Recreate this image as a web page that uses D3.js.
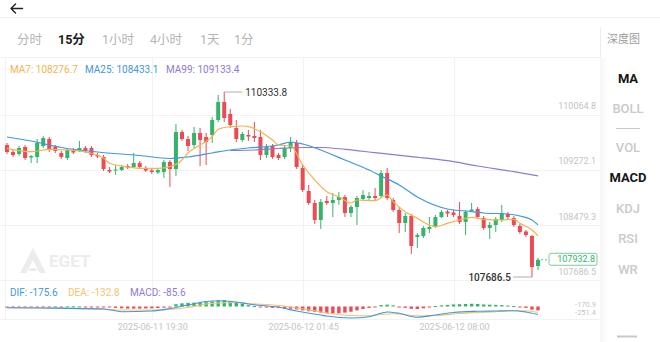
<!DOCTYPE html>
<html>
<head>
<meta charset="utf-8">
<script src="https://cdn.jsdelivr.net/npm/d3@7"></script>
<style>
  html, body { margin: 0; padding: 0; background: #fff; overflow: hidden; }
  svg { display: block; }
</style>
</head>
<body>
<svg id="chart" width="660" height="342"></svg>
<script>
// ---- 15-minute candles (BTC/USDT style), oldest first ----
const open = [
  109575.5,109475.3,109446.7,109546.8,109396.6,109403.7,109561.1,109661.3,109546.8,109461.0,
  109389.4,109503.9,109489.6,109532.5,109532.5,109432.4,109403.7,109217.7,109210.6,109217.7,
  109274.9,109260.6,109317.9,109246.3,109210.6,109182.0,109189.1,109332.2,109232.0,109761.5,
  109661.3,109575.5,109747.2,109689.9,109718.6,109933.2,110190.8,110019.1,109818.7,109647.0,
  109718.6,109704.2,109689.9,109432.4,109561.1,109432.4,109403.7,109532.5,109604.1,109246.3,
  108917.2,108745.5,108502.2,108774.1,108745.5,108788.4,108831.3,108602.4,108688.2,108802.7,
  108817.0,108845.6,108845.6,109174.8,108788.4,108645.3,108459.3,108559.5,108258.9,108273.3,
  108373.4,108402.1,108545.1,108623.9,108609.6,108559.5,108473.6,108631.0,108659.6,108530.8,
  108387.7,108430.7,108502.2,108588.1,108530.8,108416.4,108337.7,108273.3,107844.0
];
const high = [
  109604.1,109518.2,109561.1,109575.5,109432.4,109661.3,109704.2,109689.9,109575.5,109489.6,
  109532.5,109532.5,109632.7,109561.1,109561.1,109461.0,109432.4,109260.6,109289.3,109289.3,
  109303.6,109461.0,109346.5,109274.9,109232.0,109246.3,109360.8,109360.8,109876.0,109790.1,
  109704.2,109833.0,109818.7,109747.2,109976.1,110291.0,110333.8,110090.6,109933.2,109761.5,
  109790.1,109904.6,109790.1,109589.8,109589.8,109461.0,109561.1,109689.9,109647.0,109289.3,
  109003.1,108788.4,108802.7,108845.6,108888.6,108902.9,108860.0,108716.9,108845.6,108931.5,
  108902.9,108960.1,109217.7,109246.3,108817.0,108688.2,108602.4,108588.1,108316.2,108416.4,
  108545.1,108573.8,108645.3,108645.3,108645.3,108759.8,108645.3,108745.5,108688.2,108559.5,
  108473.6,108545.1,108716.9,108616.7,108559.5,108445.0,108359.1,108287.6,107958.4
];
const low = [
  109446.7,109403.7,109418.0,109360.8,109317.9,109317.9,109532.5,109475.3,109461.0,109375.1,
  109360.8,109446.7,109475.3,109461.0,109403.7,109389.4,109203.4,109174.8,109146.2,109203.4,
  109232.0,109246.3,109232.0,109189.1,109160.5,109160.5,109103.2,108974.4,109131.8,109632.7,
  109489.6,109532.5,109274.9,109289.3,109604.1,109904.6,109904.6,109818.7,109618.4,109618.4,
  109632.7,109618.4,109360.8,109389.4,109375.1,109360.8,109375.1,109475.3,109232.0,108902.9,
  108716.9,108445.0,108373.4,108716.9,108545.1,108716.9,108545.1,108545.1,108430.7,108774.1,
  108788.4,108788.4,108817.0,108788.4,108616.7,108316.2,108330.5,108015.7,108101.5,108244.6,
  108316.2,108387.7,108530.8,108545.1,108545.1,108445.0,108287.6,108616.7,108530.8,108359.1,
  108230.3,108330.5,108473.6,108516.5,108402.1,108301.9,108258.9,107686.5,107786.8
];
const close = [
  109475.3,109432.4,109532.5,109389.4,109418.0,109604.1,109675.6,109503.9,109489.6,109403.7,
  109503.9,109468.2,109532.5,109489.6,109432.4,109410.9,109232.0,109196.3,109224.9,109260.6,
  109253.5,109317.9,109260.6,109210.6,109189.1,109217.7,109332.2,109232.0,109761.5,109661.3,
  109561.1,109747.2,109647.0,109618.4,109933.2,110190.8,109961.8,109861.7,109661.3,109732.9,
  109697.1,109675.6,109432.4,109546.8,109403.7,109389.4,109532.5,109618.4,109260.6,108931.5,
  108745.5,108502.2,108759.8,108745.5,108788.4,108831.3,108602.4,108688.2,108817.0,108860.0,
  108845.6,108817.0,109174.8,108817.0,108645.3,108459.3,108559.5,108130.2,108287.6,108387.7,
  108402.1,108545.1,108616.7,108595.2,108573.8,108473.6,108616.7,108652.5,108545.1,108387.7,
  108430.7,108516.5,108602.4,108545.1,108430.7,108330.5,108287.6,107829.7,107932.8
];

// Moving averages, [candle index, value]
const ma7 = [[0,109528.2],[4,109479.6],[7,109513.9],[10,109503.9],[14,109456.7],[16,109385.1],[17,109313.6],
  [19,109274.9],[22,109242.0],[25,109242.0],[27,109264.9],[29,109360.8],[30,109461.0],[32,109575.5],
  [34,109694.2],[35,109800.1],[37,109837.4],[39,109847.3],[40,109837.4],[42,109765.8],[44,109647.0],
  [45,109575.5],[47,109561.1],[49,109289.3],[51,109074.6],[53,108907.2],[55,108835.6],[57,108745.5],
  [58,108788.4],[61,108778.4],[63,108859.9],[64,108764.0],[66,108620.9],[68,108526.5],[70,108430.6],
  [71,108406.3],[73,108454.9],[75,108502.2],[77,108540.9],[79,108512.3],[82,108502.2],[84,108512.3],
  [85,108455.0],[87,108359.1],[88,108276.7]];
const ma25 = [[0,109689.9],[4,109632.7],[9,109539.7],[15,109475.3],[22,109425.2],[27,109382.3],[30,109403.7],
  [34,109461.0],[37,109503.9],[40,109532.5],[45,109575.5],[47,109618.4],[49,109589.8],[52,109503.9],
  [56,109360.8],[60,109217.7],[62,109131.8],[65,109003.0],[68,108831.3],[73,108659.6],[76,108631.0],
  [79,108602.4],[83,108588.1],[85,108559.4],[87,108502.2],[88,108433.1]];
const ma99 = [[37,109496.7],[41,109503.9],[45,109525.4],[49,109539.7],[52,109539.7],[56,109514.0],
  [61,109465.7],[67,109408.1],[73,109350.8],[78,109275.0],[84,109193.4],[88,109133.4]];

// MACD (12, 26, 9)
const dif = [[0,-26],[6,-33],[16,-55],[19,-114],[24,-99],[27,-44],[30,33],[33,110],[35,128],[38,99],
  [40,55],[45,-18],[48,-99],[52,-187],[53,-209],[57,-251.4],[60,-224],[62,-150],[63,-121],[65,-150],
  [68,-238],[71,-187],[74,-132],[78,-106],[81,-99],[84,-92],[86,-121],[88,-175.6]];
const dea = [[0,-26],[6,-33],[16,-55],[19,-77],[24,-77],[27,-66],[30,-22],[33,55],[35,77],[38,88],
  [40,66],[45,22],[48,-33],[52,-120],[54,-160],[57,-198],[60,-202],[62,-176],[64,-158],[68,-202],
  [71,-198],[75,-154],[81,-114],[84,-92],[86,-92],[88,-132.8]];
const macdHist = [
  -8,-6,-6,-5,-4,-4,-3,-2,2,-2,
  2,3,2,-1,-2,-3,-10,-20,-30,-40,
  -45,-45,-45,-42,-40,-35,-25,-10,50,70,
  80,85,85,95,110,130,140,120,95,60,
  30,10,-5,-15,-30,-30,-40,-50,-65,-85,
  -105,-120,-135,-150,-155,-150,-135,-115,-85,-55,
  -30,-10,30,40,25,-15,-30,-50,-55,-40,
  -20,10,25,35,45,50,55,60,55,45,
  40,35,30,20,10,-5,-30,-70,-85.6
];

const priceTicks = [110064.8, 109272.1, 108479.3, 107686.5];
const macdTicks = ["-170.9", "-251.4"];
const timeTickIndex = [24, 49, 74];
const timeTickLabels = ["2025-06-11 19:30", "2025-06-12 01:45", "2025-06-12 08:00"];
const periods = ["分时", "15分", "1小时", "4小时", "1天", "1分"];
const indicators = ["MA", "BOLL", "VOL", "MACD", "KDJ", "RSI", "WR"];
const legendMA = [["MA7", 108276.7], ["MA25", 108433.1], ["MA99", 109133.4]];
const legendMACD = [["DIF", -175.6], ["DEA", -132.8], ["MACD", -85.6]];

// ---- styles ----
const UP = "#34b46b", DOWN = "#ec4a55";
const C7 = "#f5b34e", C25 = "#3f97e2", C99 = "#9079d6";
const GRID = "#f2f2f2";
const FONT = "Roboto, 'Noto Sans CJK SC', sans-serif";

const svg = d3.select("#chart");
const n = close.length;

const x = d3.scaleLinear().domain([0, n - 1]).range([7, 538]);
const y = d3.scaleLinear().domain([107686.5, 110333.8]).range([277, 92]);
const ym = d3.scaleLinear().domain([-253, 209]).range([318, 297]);

// ---- header ----
svg.append("path").attr("d", "M22.5,8.5H11 M15.5,4 L11,8.5 L15.5,13")
  .attr("fill", "none").attr("stroke", "#222").attr("stroke-width", 1.4)
  .attr("stroke-linecap", "round").attr("stroke-linejoin", "round");
svg.append("line").attr("x1", 0).attr("x2", 660).attr("y1", 17.5).attr("y2", 17.5)
  .attr("stroke", "#efefef");

const tabX = [17, 58, 102, 150, 200, 234];
svg.selectAll("text.tab").data(periods).join("text").attr("class", "tab")
  .attr("x", (d, i) => tabX[i]).attr("y", 39).attr("dominant-baseline", "central")
  .attr("font-family", FONT).attr("font-size", 12.5)
  .attr("font-weight", (d, i) => i === 1 ? 700 : 400)
  .attr("fill", (d, i) => i === 1 ? "#1a1a1a" : "#b4b4b4")
  .text(d => d);

svg.append("line").attr("x1", 600.5).attr("x2", 600.5).attr("y1", 27).attr("y2", 58)
  .attr("stroke", "#ededed");
svg.append("text").attr("x", 607).attr("y", 39).attr("dominant-baseline", "central")
  .attr("font-family", FONT).attr("font-size", 11).attr("fill", "#9c9c9c").text("深度图");

// ---- grid ----
const grid = svg.append("g").attr("stroke", GRID).attr("stroke-width", 1);
[57, 115, 170, 225, 280, 319].forEach(gy => {
  grid.append("line").attr("x1", 0).attr("x2", 600).attr("y1", gy + 0.5).attr("y2", gy + 0.5);
});
[5].concat(timeTickIndex.map(i => x(i))).forEach(gx => {
  grid.append("line").attr("x1", Math.round(gx) + 0.5).attr("x2", Math.round(gx) + 0.5)
    .attr("y1", 57).attr("y2", 319);
});

// right indicator column shading
const defs = svg.append("defs");
const lg = defs.append("linearGradient").attr("id", "shade").attr("x1", 0).attr("x2", 1);
lg.append("stop").attr("offset", 0).attr("stop-color", "#000").attr("stop-opacity", 0.035);
lg.append("stop").attr("offset", 1).attr("stop-color", "#000").attr("stop-opacity", 0);
svg.append("rect").attr("x", 600).attr("y", 58).attr("width", 10).attr("height", 284).attr("fill", "url(#shade)");

// ---- watermark ----
const wm = svg.append("g").attr("fill", "#ececec");
wm.append("path").attr("d", "M20,273 L33,248 L46,273 L39.5,273 L33,260 L26.5,273 Z M30,268 L36,268 L37.5,271 L28.5,271 Z");
wm.append("text").attr("x", 49).attr("y", 261).attr("dominant-baseline", "central")
  .attr("font-family", FONT).attr("font-weight", 700).attr("font-size", 17).text("EGET");

// ---- legends ----
const legX = [10, 85, 166];
const legC = [C7, C25, C99];
legendMA.forEach((d, i) => {
  svg.append("text").attr("x", legX[i]).attr("y", 69).attr("dominant-baseline", "central")
    .attr("font-family", FONT).attr("font-size", 10).attr("fill", legC[i])
    .text(`${d[0]}: ${d[1].toFixed(1)}`);
});
const macdLegX = [10, 68, 130];
const macdLegC = [C25, "#f6c46e", C99];
legendMACD.forEach((d, i) => {
  svg.append("text").attr("x", macdLegX[i]).attr("y", 292.5).attr("dominant-baseline", "central")
    .attr("font-family", FONT).attr("font-size", 10).attr("fill", macdLegC[i])
    .text(`${d[0]}: ${d[1].toFixed(1)}`);
});

// ---- price axis labels ----
svg.selectAll("text.pt").data(priceTicks).join("text").attr("class", "pt")
  .attr("x", 596).attr("y", d => y(d) - 5).attr("text-anchor", "end").attr("dominant-baseline", "central")
  .attr("font-family", FONT).attr("font-size", 9).attr("fill", "#c4c4c4")
  .text(d => d.toFixed(1));

// ---- candles ----
const candles = svg.append("g");
d3.range(n).forEach(i => {
  const up = close[i] >= open[i];
  const col = up ? UP : DOWN;
  const cx = x(i);
  candles.append("line").attr("x1", cx).attr("x2", cx)
    .attr("y1", y(high[i])).attr("y2", y(low[i]))
    .attr("stroke", col).attr("stroke-width", 1);
  const top = Math.min(y(open[i]), y(close[i]));
  const h = Math.max(1, Math.abs(y(open[i]) - y(close[i])));
  candles.append("rect").attr("x", cx - 2).attr("width", 4)
    .attr("y", top).attr("height", h).attr("fill", col);
});

// ---- moving averages ----
const maLine = d3.line().x(d => x(d[0])).y(d => y(d[1])).curve(d3.curveMonotoneX);
[[ma99, C99], [ma25, C25], [ma7, C7]].forEach(([data, c]) => {
  svg.append("path").attr("d", maLine(data)).attr("fill", "none")
    .attr("stroke", c).attr("stroke-width", 1.2);
});

// ---- high / low markers ----
const hiIdx = high.indexOf(d3.max(high));
const loIdx = low.indexOf(d3.min(low));
svg.append("line").attr("x1", x(hiIdx)).attr("x2", x(hiIdx) + 18)
  .attr("y1", y(high[hiIdx])).attr("y2", y(high[hiIdx])).attr("stroke", "#9a9a9a").attr("stroke-width", 0.8);
svg.append("text").attr("x", x(hiIdx) + 21).attr("y", y(high[hiIdx])).attr("dominant-baseline", "central")
  .attr("font-family", FONT).attr("font-size", 10).attr("fill", "#333").text(high[hiIdx].toFixed(1));
svg.append("line").attr("x1", x(loIdx)).attr("x2", x(loIdx) - 19)
  .attr("y1", y(low[loIdx])).attr("y2", y(low[loIdx])).attr("stroke", "#9a9a9a").attr("stroke-width", 0.8);
svg.append("text").attr("x", x(loIdx) - 21).attr("y", y(low[loIdx])).attr("text-anchor", "end")
  .attr("dominant-baseline", "central").attr("font-family", FONT).attr("font-size", 10)
  .attr("font-weight", 500).attr("fill", "#333").text(low[loIdx].toFixed(1));

// ---- last price tag ----
const last = close[n - 1];
const ly = y(last);
svg.append("line").attr("x1", x(n - 1) + 3).attr("x2", 549).attr("y1", ly).attr("y2", ly)
  .attr("stroke", UP).attr("stroke-width", 0.8).attr("stroke-dasharray", "2,2");
svg.append("rect").attr("x", 549).attr("y", ly - 6.5).attr("width", 48).attr("height", 12).attr("rx", 2)
  .attr("fill", "#fff").attr("stroke", "#5cc285").attr("stroke-width", 0.8);
svg.append("text").attr("x", 595).attr("y", ly - 0.5).attr("text-anchor", "end").attr("dominant-baseline", "central")
  .attr("font-family", FONT).attr("font-size", 9).attr("fill", UP).text(last.toFixed(1));

// ---- MACD panel ----
const hist = svg.append("g");
macdHist.forEach((v, i) => {
  const y0 = ym(0), y1 = ym(v);
  hist.append("rect").attr("x", x(i) - 1.7).attr("width", 3.4)
    .attr("y", Math.min(y0, y1)).attr("height", Math.max(1, Math.abs(y1 - y0)))
    .attr("fill", v >= 0 ? UP : DOWN);
});
const mLine = d3.line().x(d => x(d[0])).y(d => ym(d[1])).curve(d3.curveMonotoneX);
svg.append("path").attr("d", mLine(dea)).attr("fill", "none").attr("stroke", "#f6c46e").attr("stroke-width", 1.1);
svg.append("path").attr("d", mLine(dif)).attr("fill", "none").attr("stroke", C25).attr("stroke-width", 1.1);

// scale extremes, stacked tightly at the right edge
svg.append("text").attr("x", 596).attr("y", 304).attr("text-anchor", "end").attr("dominant-baseline", "central")
  .attr("font-family", FONT).attr("font-size", 7.5).attr("fill", "#c4c4c4").text(macdTicks[0]);
svg.append("text").attr("x", 596).attr("y", 312.5).attr("text-anchor", "end").attr("dominant-baseline", "central")
  .attr("font-family", FONT).attr("font-size", 7.5).attr("fill", "#c4c4c4").text(macdTicks[1]);

// ---- time axis ----
svg.selectAll("text.tt").data(timeTickIndex).join("text").attr("class", "tt")
  .attr("x", d => x(d) + 1).attr("y", 326.5).attr("text-anchor", "middle").attr("dominant-baseline", "central")
  .attr("font-family", FONT).attr("font-size", 9).attr("fill", "#c4c4c4")
  .text((d, i) => timeTickLabels[i]);

// ---- indicator selector ----
const indY = [78, 108, 147, 177.5, 208, 238.5, 269];
indicators.forEach((t, i) => {
  const active = t === "MA" || t === "MACD";
  svg.append("text").attr("x", 628).attr("y", indY[i]).attr("text-anchor", "middle")
    .attr("dominant-baseline", "central").attr("font-family", FONT).attr("font-size", 13)
    .attr("font-weight", active ? 700 : 500).attr("fill", active ? "#161616" : "#cacaca").text(t);
});
svg.append("line").attr("x1", 616).attr("x2", 640).attr("y1", 128.5).attr("y2", 128.5)
  .attr("stroke", "#c8c8c8").attr("stroke-width", 1);
svg.append("line").attr("x1", 617).attr("x2", 637).attr("y1", 336.5).attr("y2", 336.5)
  .attr("stroke", "#c8c8c8").attr("stroke-width", 2);
</script>
</body>
</html>
